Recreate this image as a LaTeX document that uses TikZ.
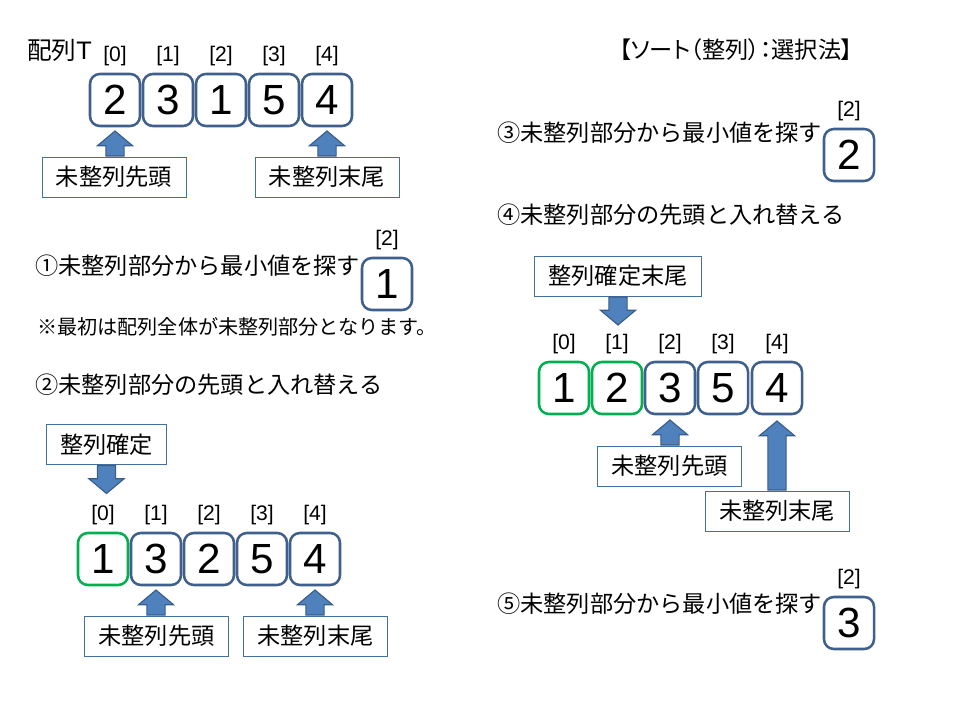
\documentclass[tikz,border=0pt]{standalone}
\usepackage{fontspec}
\setmainfont{Noto Sans CJK JP}
\newfontfamily\arialfont{Liberation Sans}
\newfontfamily\propfont{Noto Sans CJK JP}[RawFeature=+palt]
\usetikzlibrary{shapes.arrows}

\definecolor{cellblue}{HTML}{3F5F8C}
\definecolor{donegreen}{HTML}{00B050}
\definecolor{tagblue}{HTML}{41719C}
\definecolor{arrowfill}{HTML}{4F81BD}
\definecolor{arrowedge}{HTML}{385D8A}

\tikzset{
  cell/.style={draw=cellblue, line width=1.8pt, rounded corners=7pt, minimum width=1.25cm,
    minimum height=1.3cm, inner sep=0pt, font=\arialfont\fontsize{30}{30}\selectfont},
  done/.style={cell, draw=donegreen},
  idx/.style={font=\arialfont\fontsize{15}{17}\selectfont, label distance=1.5pt},
  tag/.style={draw=tagblue, line width=0.6pt, minimum height=1cm, inner xsep=0.35cm,
    font=\fontsize{16.5}{18}\selectfont},
  heading/.style={anchor=west, inner sep=0pt, font=\fontsize{16.5}{18}\selectfont},
  blockarrow/.style={single arrow, draw=arrowedge, line width=0.8pt, fill=arrowfill,
    inner xsep=0.215cm, inner ysep=0pt, minimum width=0.85cm,
    single arrow head extend=0.21cm, single arrow tip angle=100},
  uparrow/.style={blockarrow, shape border rotate=90, anchor=tail},
  downarrow/.style={blockarrow, shape border rotate=270, anchor=tail}
}

\begin{document}
\begin{tikzpicture}[x=0.025cm, y=-0.025cm]
  \useasboundingbox (0,0) rectangle (960,720);

  \node[font=\propfont\fontsize{16.5}{18}\selectfont] (title) at (736,50) {【ソート（整列）：選択法】};

  % initial array
  \node[heading, font=\fontsize{17.5}{19}\selectfont] (arrname) at (27,50) {配列{\arialfont\fontsize{18}{19}\selectfont T}};
  \node[cell, label={[idx]above:{[0]}}] (a0) at (115,100) {2};
  \node[cell, label={[idx]above:{[1]}}] (a1) at (168,100) {3};
  \node[cell, label={[idx]above:{[2]}}] (a2) at (221,100) {1};
  \node[cell, label={[idx]above:{[3]}}] (a3) at (274,100) {5};
  \node[cell, label={[idx]above:{[4]}}] (a4) at (327,100) {4};
  \node[tag] (head1) at (114,177) {未整列先頭};
  \node[tag] (tail1) at (327,177) {未整列末尾};
  \node[uparrow, minimum height=0.625cm] (ah1) at (a0 |- head1.north) {};
  \node[uparrow, minimum height=0.625cm] (at1) at (a4 |- tail1.north) {};

  % step 1
  \node[heading] (step1) at (35,266) {①未整列部分から最小値を探す};
  \node[cell, label={[idx]above:{[2]}}] (min1) at (387,284) {1};
  \node[heading, font=\fontsize{14.3}{16}\selectfont] (note) at (37,327) {※最初は配列全体が未整列部分となります。};

  % step 2
  \node[heading] (step2) at (35,385) {②未整列部分の先頭と入れ替える};
  \node[tag] (fixed2) at (106.5,444.5) {整列確定};
  \node[downarrow, minimum height=0.7cm] (af2) at (fixed2.south) {};
  \node[done, label={[idx]above:{[0]}}] (b0) at (103,559) {1};
  \node[cell, label={[idx]above:{[1]}}] (b1) at (156,559) {3};
  \node[cell, label={[idx]above:{[2]}}] (b2) at (209,559) {2};
  \node[cell, label={[idx]above:{[3]}}] (b3) at (262,559) {5};
  \node[cell, label={[idx]above:{[4]}}] (b4) at (315,559) {4};
  \node[tag] (head2) at (156.5,636) {未整列先頭};
  \node[tag] (tail2) at (315.5,636) {未整列末尾};
  \node[uparrow, minimum height=0.625cm] (ah2) at (b1 |- head2.north) {};
  \node[uparrow, minimum height=0.625cm] (at2) at (b4 |- tail2.north) {};

  % step 3
  \node[heading] (step3) at (497,133) {③未整列部分から最小値を探す};
  \node[cell, label={[idx]above:{[2]}}] (min2) at (849,155) {2};

  % step 4
  \node[heading] (step4) at (497,215) {④未整列部分の先頭と入れ替える};
  \node[tag] (fixed4) at (618,276) {整列確定末尾};
  \node[downarrow, minimum height=0.7cm] (af4) at (fixed4.south) {};
  \node[done, label={[idx]above:{[0]}}] (c0) at (564,388) {1};
  \node[done, label={[idx]above:{[1]}}] (c1) at (617,388) {2};
  \node[cell, label={[idx]above:{[2]}}] (c2) at (670,388) {3};
  \node[cell, label={[idx]above:{[3]}}] (c3) at (723,388) {5};
  \node[cell, label={[idx]above:{[4]}}] (c4) at (777,388) {4};
  \node[tag] (head4) at (669.5,466) {未整列先頭};
  \node[tag] (tail4) at (777,511) {未整列末尾};
  \node[uparrow, minimum height=0.625cm] (ah4) at (c2 |- head4.north) {};
  \node[uparrow, minimum height=1.725cm] (at4) at (c4 |- tail4.north) {};

  % step 5
  \node[heading] (step5) at (497,604) {⑤未整列部分から最小値を探す};
  \node[cell, label={[idx]above:{[2]}}] (min3) at (849,623) {3};
\end{tikzpicture}
\end{document}
